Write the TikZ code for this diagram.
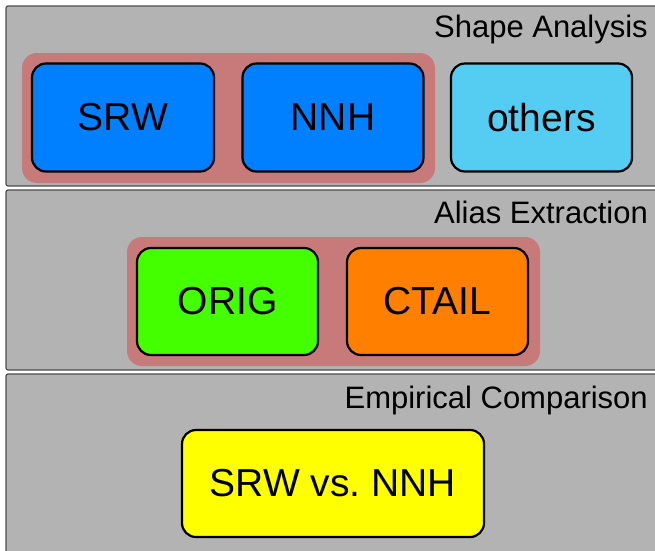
\documentclass[tikz,border=0pt]{standalone}
\usepackage{fontspec}
\setmainfont{Liberation Sans}
\definecolor{panelgray}{HTML}{B3B3B3}
\definecolor{paneledge}{HTML}{4D4D4D}
\definecolor{grouprose}{HTML}{C87A7A}
\definecolor{boxblue}{HTML}{0080FF}
\definecolor{boxsky}{HTML}{55CCF2}
\definecolor{boxgreen}{HTML}{44FF00}
\definecolor{boxorange}{HTML}{FF8000}
\definecolor{boxyellow}{HTML}{FFFF00}
\tikzset{
  panel/.style={draw=paneledge, line width=1.2pt, fill=panelgray, rounded corners=2pt},
  group/.style={fill=grouprose, rounded corners=15pt},
  stage/.style={draw=black, line width=2.2pt, rounded corners=14pt, anchor=center,
    font=\fontsize{39}{39}\selectfont, inner sep=0pt},
  title/.style={anchor=base east, font=\fontsize{31}{31}\selectfont, inner sep=0pt}
}
\begin{document}
\begin{tikzpicture}[x=1pt,y=-1pt]
\useasboundingbox (0,0) rectangle (655,550);
\clip (0,0) rectangle (655,550);
\fill[white] (0,0) rectangle (655,550);
% three horizontal bands
\draw[panel] (6,6) rectangle (662,186);
\draw[panel] (6,190) rectangle (662,370);
\draw[panel] (6,374) rectangle (662,560);
% band titles
\node[title] (t1) at (648,37) {Shape Analysis};
\node[title] (t2) at (648,223) {Alias Extraction};
\node[title] (t3) at (648,408) {Empirical Comparison};
% grouping backgrounds
\fill[group] (22,53) rectangle (435,183);
\fill[group] (127,237) rectangle (540,366);
% shape analysis stages
\node[stage, fill=boxblue, minimum width=182pt, minimum height=108pt] (srw) at (123,117.5) {SRW};
\node[stage, fill=boxblue, minimum width=181pt, minimum height=108pt] (nnh) at (333,117.5) {NNH};
\node[stage, fill=boxsky, minimum width=181pt, minimum height=108pt] (oth) at (541.5,117.5) {others};
% alias extraction stages
\node[stage, fill=boxgreen, minimum width=181pt, minimum height=107pt] (orig) at (227.5,301.5) {ORIG};
\node[stage, fill=boxorange, minimum width=181pt, minimum height=107pt] (ctail) at (437.5,301.5) {CTAIL};
% comparison stage
\node[stage, fill=boxyellow, minimum width=302pt, minimum height=107pt] (cmp) at (333,483.5) {SRW vs.\ NNH};
\end{tikzpicture}
\end{document}
